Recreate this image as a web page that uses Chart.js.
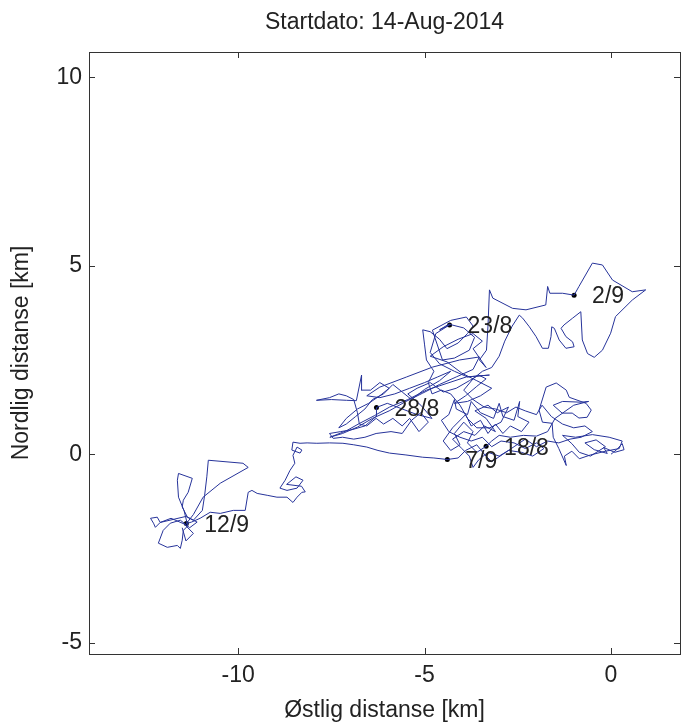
<!DOCTYPE html>
<html>
<head>
<meta charset="utf-8">
<script src="https://cdn.jsdelivr.net/npm/chart.js@4/dist/chart.umd.min.js"></script>
<style>
  html, body { margin: 0; padding: 0; background: #fff; }
  #wrap { width: 684px; height: 728px; position: relative; }
</style>
</head>
<body>
<div id="wrap"><canvas id="c"></canvas></div>
<script>
// ---- Data (km) ----
const titleText = 'Startdato: 14-Aug-2014';
const xTitle = 'Østlig distanse [km]';
const yTitle = 'Nordlig distanse [km]';
const xTicks = [-10, -5, 0];
const yTicks = [-5, 0, 5, 10];

// Track segments: [east km, north km]
const seg14to18 = [
  [0.00,0.00],[0.15,0.12],[0.30,0.28],[0.35,0.12],[0.10,0.05],[-0.20,0.18],[-0.10,0.02],[-0.45,0.12],
  [-0.70,0.30],[-0.40,0.38],[-0.15,0.20],[-0.55,-0.05],[-0.85,0.05],[-1.05,0.28],[-1.30,0.50],[-0.95,0.45],
  [-0.50,0.52],[-0.05,0.45],[0.30,0.35],[0.22,0.15],[-0.15,0.08],[-0.55,-0.02],[-0.85,-0.12],[-1.05,0.08],
  [-1.25,-0.05],[-1.20,-0.30],[-1.40,0.15],[-1.55,0.45],[-1.58,0.82],[-1.84,0.85],[-1.93,1.17],[-1.74,1.78],
  [-1.47,1.89],[-1.20,1.70],[-1.12,1.51],[-0.67,1.35],[-0.53,1.17],[-0.64,0.98],[-0.86,0.96],[-1.04,1.09],
  [-1.31,1.09],[-1.55,1.30],[-1.30,1.40],[-0.80,1.38],[-0.60,1.40],[-1.00,1.30],[-1.50,0.95],[-1.70,0.60],
  [-2.00,0.48],[-2.35,0.50],[-2.70,0.45],[-3.00,0.50],[-3.20,0.35],[-3.35,0.21]
];
const seg18to23 = [
  [-3.35,0.21],[-3.60,0.05],[-3.85,0.30],[-3.70,0.60],[-3.95,0.85],[-4.20,0.55],[-4.05,0.25],[-4.30,0.10],
  [-4.50,0.35],[-4.25,0.70],[-3.90,1.05],[-3.75,0.75],[-3.50,0.90],[-3.30,0.55],[-3.10,0.80],[-2.90,0.55],
  [-2.70,0.75],[-2.40,0.60],[-2.20,0.85],[-2.50,1.00],[-2.45,1.40],[-2.60,0.90],[-2.90,1.00],[-3.00,1.35],
  [-3.15,0.95],[-3.50,1.10],[-3.75,1.40],[-3.85,1.05],[-4.15,1.20],[-4.20,1.45],[-4.35,1.05],[-4.55,0.90],
  [-4.35,0.60],[-4.05,0.45],[-3.75,0.35],[-3.45,0.45],[-3.20,0.20],[-2.95,0.35],[-2.60,0.30],[-2.30,0.15],
  [-2.00,0.30],[-1.80,0.15],[-2.10,-0.05],[-2.40,0.05],[-2.75,0.10],[-3.00,-0.05],[-3.30,0.05],[-3.55,-0.15],
  [-3.70,-0.35],[-3.80,-0.05],[-4.00,0.15],[-4.25,0.40],[-3.95,0.60],[-3.65,0.50],[-3.40,0.75],[-3.10,0.60],
  [-3.35,0.95],[-3.65,1.15],[-3.30,1.30],[-3.05,1.10],[-2.75,1.25],[-2.95,0.85],[-3.25,0.70],[-3.60,0.70],
  [-3.85,0.95],[-4.05,1.30],[-4.30,1.60],
  [-4.55,1.70],[-4.80,1.60],[-4.90,1.90],[-4.75,2.20],[-4.95,2.50],[-5.00,2.90],[-5.05,3.30],[-4.85,3.25],
  [-4.60,3.05],[-4.40,2.80],[-4.10,2.95],[-3.85,3.20],[-3.70,3.40],[-3.88,3.64],[-4.30,3.55],[-4.79,3.29],
  [-4.73,3.11],[-4.52,2.50],[-4.20,2.55],[-3.80,2.76],[-3.66,3.10],[-3.95,3.35],[-4.35,3.45],[-4.60,3.30],
  [-4.33,3.43]
];
const seg23to28 = [
  [-4.33,3.43],[-4.70,3.20],[-4.85,2.70],[-4.60,2.40],[-4.20,2.20],[-3.85,2.05],[-3.26,2.10],[-3.88,2.05],
  [-4.40,1.88],[-4.95,1.70],[-5.45,1.45],[-5.94,1.25],[-6.35,1.02],[-6.74,0.82],[-7.10,0.62],[-7.54,0.45],
  [-7.20,0.55],[-6.80,0.72],[-6.40,0.95],[-5.95,1.15],[-5.50,1.40],[-5.05,1.62],[-4.60,1.85],[-4.15,2.05],
  [-3.70,2.25],[-3.53,2.58],[-4.06,2.50],[-4.79,2.31],[-5.48,2.05],[-6.20,1.78],[-6.55,1.55],[-6.20,1.50],
  [-5.80,1.60],[-5.40,1.75],[-5.00,1.90],[-4.65,2.05],[-4.30,2.20],[-4.60,1.95],[-5.00,1.72],[-5.35,1.45],
  [-5.60,1.65],[-5.85,1.85],[-6.10,1.60],[-6.40,1.45],[-6.60,1.20],[-6.85,1.00],[-7.10,0.80],[-7.30,0.70],
  [-7.10,0.95],[-6.80,1.20],[-6.50,1.35],[-6.20,1.55],[-5.95,1.75],[-6.20,1.90],[-6.45,1.70],[-6.70,1.70],
  [-6.69,2.10],[-6.83,1.42],[-7.09,1.43],[-7.50,1.45],[-7.90,1.43],[-7.55,1.50],[-7.30,1.60],[-7.10,1.55],
  [-6.90,1.45],[-6.80,1.10],[-6.75,0.80],[-6.55,0.75],[-6.30,0.95],[-6.10,0.80],[-5.85,0.95],[-5.60,0.75],
  [-5.40,0.95],[-5.15,0.60],[-4.90,0.85],[-5.10,1.10],[-5.35,0.90],[-5.60,0.55],[-5.90,0.60],[-6.30,0.55],
  [-6.60,0.45],[-6.90,0.40],[-7.20,0.45],[-7.45,0.42],[-7.55,0.55],[-7.25,0.60],[-6.95,0.65],[-6.60,0.75],
  [-6.30,1.00],[-6.29,1.24]
];
const seg28to02 = [
  [-6.29,1.24],[-6.00,1.35],[-5.60,1.20],[-5.20,1.05],[-4.80,0.95],[-5.10,1.30],[-5.45,1.60],[-5.20,1.75],
  [-4.85,1.90],[-4.50,1.65],[-4.15,1.75],[-3.80,1.95],[-3.55,2.10],[-3.35,2.00],[-3.60,1.80],[-3.90,1.55],
  [-4.20,1.35],[-3.85,1.40],[-3.50,1.55],[-3.20,1.75],[-3.60,1.95],[-4.00,2.15],[-4.40,2.45],[-4.85,2.60],
  [-4.50,2.85],[-4.10,3.05],[-3.70,3.20],[-3.45,3.00],[-3.70,2.80],[-3.35,2.30],[-3.53,2.50],[-3.34,2.76],
  [-3.30,3.40],[-3.26,4.36],[-3.17,4.14],[-2.64,3.87],[-2.28,3.83],[-1.75,3.96],[-1.70,4.45],[-1.64,4.27],
  [-1.30,4.27],[-0.99,4.22]
];
const seg02to07 = [
  [-0.99,4.22],[-0.86,4.45],[-0.50,5.07],[-0.23,5.02],[0.04,4.62],[0.57,4.31],[0.93,4.36],[0.57,4.09],
  [0.12,3.65],[-0.01,3.21],[-0.23,2.76],[-0.45,2.57],[-0.63,2.67],[-0.77,3.03],[-0.81,3.78],[-1.03,3.61],
  [-1.26,3.43],[-1.34,3.34],[-1.21,3.12],[-1.03,2.98],[-0.99,2.85],[-1.21,2.81],[-1.39,3.03],[-1.52,3.34],
  [-1.59,3.38],[-1.61,3.12],[-1.68,2.81],[-1.84,2.81],[-2.01,3.12],[-2.19,3.38],[-2.37,3.61],[-2.46,3.69],
  [-2.65,3.40],[-2.85,3.00],[-3.00,2.60],[-3.20,2.30],[-3.45,2.20],[-3.70,2.00],[-3.95,1.70],[-3.70,1.45],
  [-3.40,1.25],[-3.10,1.20],[-2.80,1.10],[-2.55,1.25],[-2.30,1.15],[-2.00,1.05],[-1.85,1.30],[-1.60,1.00],
  [-1.30,0.80],[-1.00,0.70],[-0.70,0.75],[-0.50,0.60],[-0.80,0.45],[-1.10,0.40],[-1.40,0.30],[-1.70,0.35],
  [-2.00,0.20],[-2.30,0.40],[-2.60,0.20],[-2.90,0.00],[-3.20,-0.20],[-3.40,0.00],[-3.60,0.25],[-3.90,0.10],
  [-4.10,-0.10],[-4.39,-0.14]
];
const seg07to12 = [
  [-4.39,-0.14],[-4.75,-0.10],[-5.05,-0.08],[-5.50,-0.02],[-5.94,0.03],[-6.25,0.10],[-6.55,0.19],[-6.90,0.25],
  [-7.19,0.29],[-7.55,0.30],[-7.89,0.29],[-8.15,0.30],[-8.34,0.29],[-8.53,0.32],[-8.56,0.11],[-8.34,0.03],
  [-8.29,0.11],[-8.42,0.19],[-8.53,-0.03],[-8.48,-0.24],[-8.61,-0.43],[-8.74,-0.69],[-8.88,-0.90],[-8.69,-0.96],
  [-8.42,-0.90],[-8.26,-0.69],[-8.45,-0.60],[-8.70,-0.80],[-8.30,-0.85],[-8.20,-1.00],[-8.29,-1.01],[-8.42,-1.14],
  [-8.53,-1.28],[-8.69,-1.14],[-8.96,-1.14],[-9.22,-1.09],[-9.49,-1.04],[-9.63,-0.96],[-9.73,-1.01],[-9.81,-1.49],
  [-10.13,-1.49],[-10.48,-1.57],[-10.75,-1.54],[-11.02,-1.70],[-11.25,-1.80],[-11.39,-1.84]
];
const segAfter12 = [
  [-11.39,-1.84],[-11.20,-1.60],[-10.94,-1.14],[-10.48,-0.77],[-9.73,-0.35],[-9.87,-0.24],[-10.80,-0.16],[-10.84,-0.60],
  [-10.90,-1.10],[-10.96,-1.49],[-11.20,-1.75],[-11.36,-1.67],[-11.50,-1.40],[-11.47,-1.22],[-11.34,-1.01],[-11.23,-0.64],
  [-11.60,-0.51],[-11.63,-0.69],[-11.60,-1.14],[-11.45,-1.50],[-11.35,-1.90],[-11.47,-2.02],[-11.50,-2.28],[-11.55,-2.50],
  [-11.63,-2.42],[-11.90,-2.47],[-12.14,-2.36],[-12.01,-2.02],[-11.82,-1.83],[-11.55,-1.75],[-11.30,-1.95],[-11.10,-1.80],
  [-11.40,-1.65],[-11.70,-1.72],[-12.09,-1.81],[-12.17,-1.67],[-12.35,-1.70],[-12.27,-1.83],[-12.22,-1.94],[-12.09,-1.81],
  [-11.80,-1.70],[-11.45,-1.85],[-11.20,-2.10],[-11.40,-2.30],[-11.50,-1.95]
];

// Date markers
const dateLabels = ['18/8', '23/8', '28/8', '2/9', '7/9', '12/9'];
const dateX = [-3.35, -4.33, -6.29, -0.99, -4.39, -11.39];
const dateY = [0.21, 3.43, 1.24, 4.22, -0.14, -1.84];

// ---- Build ----
const segments = [seg14to18, seg18to23, seg23to28, seg28to02, seg02to07, seg07to12, segAfter12];
const track = [];
segments.forEach((s, i) => s.forEach((p, j) => { if (i > 0 && j === 0) return; track.push({x: p[0], y: p[1]}); }));
const dates = dateX.map((x, i) => ({x, y: dateY[i], label: dateLabels[i]}));

const FONT = '"Liberation Sans", Arial, Helvetica, sans-serif';
const TXT = '#222';

const boxPlugin = {
  id: 'boxTicks',
  afterDraw(chart) {
    const {ctx, chartArea: a, scales: {x, y}} = chart;
    ctx.save();
    // title centred over the axes
    ctx.fillStyle = TXT;
    ctx.font = '23px ' + FONT;
    ctx.textAlign = 'center';
    ctx.textBaseline = 'middle';
    ctx.fillText(titleText, (a.left + a.right) / 2, 23);
    // box
    ctx.strokeStyle = '#333';
    ctx.lineWidth = 1;
    ctx.strokeRect(Math.round(a.left) + 0.5, Math.round(a.top) + 0.5, Math.round(a.right - a.left), Math.round(a.bottom - a.top));
    const L = 6;
    ctx.beginPath();
    xTicks.forEach(v => {
      const px = Math.round(x.getPixelForValue(v)) + 0.5;
      ctx.moveTo(px, a.bottom); ctx.lineTo(px, a.bottom - L);
      ctx.moveTo(px, a.top); ctx.lineTo(px, a.top + L);
    });
    yTicks.forEach(v => {
      const py = Math.round(y.getPixelForValue(v)) + 0.5;
      ctx.moveTo(a.left, py); ctx.lineTo(a.left + L, py);
      ctx.moveTo(a.right, py); ctx.lineTo(a.right - L, py);
    });
    ctx.stroke();
    // date labels
    ctx.textAlign = 'left';
    dates.forEach(d => {
      const px = x.getPixelForValue(d.x), py = y.getPixelForValue(d.y);
      ctx.fillText(d.label, px + 18, py + 2);
    });
    ctx.restore();
  }
};

new Chart(document.getElementById('c'), {
  type: 'scatter',
  data: {
    datasets: [
      {
        data: track, showLine: true, borderColor: '#26339a', borderWidth: 1,
        pointRadius: 0, tension: 0, fill: false
      },
      {
        data: dates, showLine: false, pointRadius: 2.5, pointBackgroundColor: '#000',
        pointBorderColor: '#000', pointBorderWidth: 0
      }
    ]
  },
  options: {
    responsive: true, maintainAspectRatio: false, animation: false,
    layout: { padding: { left: 0, right: 3, top: 52, bottom: 0 } },
    plugins: {
      legend: { display: false },
      tooltip: { enabled: false },
      title: { display: false }
    },
    scales: {
      x: {
        type: 'linear', min: -14, max: 1.85,
        grid: { display: false, drawTicks: false },
        border: { display: false },
        afterBuildTicks: s => { s.ticks = xTicks.map(v => ({value: v})); },
        afterFit: s => { s.height = 74; },
        ticks: { color: TXT, font: { family: FONT, size: 23 }, padding: 8, maxRotation: 0 },
        title: { display: true, text: xTitle, color: TXT, font: { family: FONT, size: 23 }, padding: { top: 0, bottom: 4 } }
      },
      y: {
        type: 'linear', min: -5.3, max: 10.67,
        grid: { display: false, drawTicks: false },
        border: { display: false },
        afterBuildTicks: s => { s.ticks = yTicks.map(v => ({value: v})); },
        afterFit: s => { s.width = 89; },
        ticks: { color: TXT, font: { family: FONT, size: 23 }, padding: 7 },
        title: { display: true, text: yTitle, color: TXT, font: { family: FONT, size: 23 }, padding: { top: 8, bottom: 0 } }
      }
    }
  },
  plugins: [boxPlugin]
});
</script>
</body>
</html>
